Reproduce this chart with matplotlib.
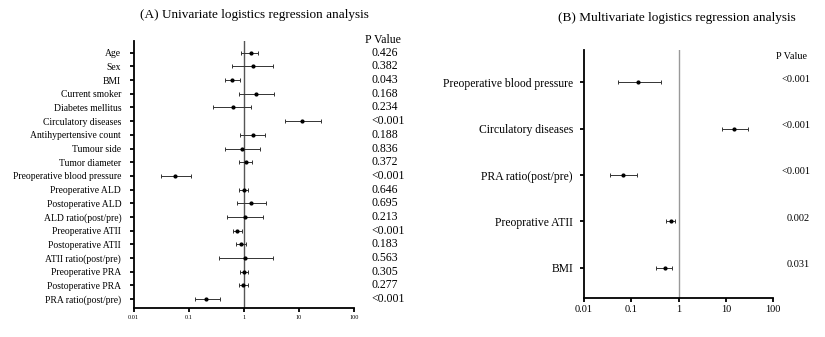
import numpy as np
import matplotlib.pyplot as plt

plt.rcParams['font.family'] = ['Liberation Serif', 'DejaVu Serif']

# Panel A: univariate
uni_labels = ['Age', 'Sex', 'BMI', 'Current smoker', 'Diabetes mellitus',
              'Circulatory diseases', 'Antihypertensive count', 'Tumour side',
              'Tumor diameter', 'Preoperative blood pressure', 'Preoperative ALD',
              'Postoperative ALD', 'ALD ratio(post/pre)', 'Preoperative ATII',
              'Postoperative ATII', 'ATII ratio(post/pre)', 'Preoperative PRA',
              'Postoperative PRA', 'PRA ratio(post/pre)']
uni_or = [1.34, 1.46, 0.60, 1.70, 0.63, 11.3, 1.45, 0.92, 1.08, 0.056, 1.00,
          1.35, 1.05, 0.75, 0.88, 1.05, 1.00, 0.98, 0.21]
uni_lo = [0.88, 0.60, 0.45, 0.81, 0.28, 5.6, 0.84, 0.45, 0.82, 0.031, 0.83,
          0.75, 0.50, 0.65, 0.72, 0.35, 0.85, 0.82, 0.13]
uni_hi = [1.80, 3.40, 0.85, 3.60, 1.34, 25.0, 2.40, 1.95, 1.40, 0.11, 1.20,
          2.50, 2.20, 0.92, 1.10, 3.40, 1.20, 1.20, 0.37]
uni_p = ['0.426', '0.382', '0.043', '0.168', '0.234', '<0.001', '0.188', '0.836',
         '0.372', '<0.001', '0.646', '0.695', '0.213', '<0.001', '0.183', '0.563',
         '0.305', '0.277', '<0.001']

# Panel B: multivariate
multi_labels = ['Preoperative blood pressure', 'Circulatory diseases',
                'PRA ratio(post/pre)', 'Preoprative ATII', 'BMI']
multi_or = [0.14, 14.8, 0.068, 0.68, 0.52]
multi_lo = [0.052, 8.3, 0.035, 0.53, 0.34]
multi_hi = [0.42, 30.0, 0.13, 0.86, 0.72]
multi_p = ['<0.001', '<0.001', '<0.001', '0.002', '0.031']

ticks = [0.01, 0.1, 1, 10, 100]
tick_labels = ['0.01', '0.1', '1', '10', '100']

fig = plt.figure(figsize=(8.25, 3.37), dpi=100)


def forest(ax, labels, ors, lo, hi, vcolor, lab_fs, tick_fs, spine_w, ypad):
    y = np.arange(len(labels))
    err = [np.array(ors) - np.array(lo), np.array(hi) - np.array(ors)]
    ax.axvline(1, color=vcolor, lw=1.0, zorder=1)
    ax.errorbar(ors, y, xerr=err, fmt='o', ms=2.0, color='black',
                ecolor='#333333', elinewidth=0.7, capsize=1.5, capthick=0.7,
                zorder=3)
    ax.set_xscale('log')
    ax.set_xlim(0.01, 100)
    ax.set_xticks(ticks)
    ax.set_xticklabels(tick_labels, fontsize=tick_fs)
    ax.minorticks_off()
    ax.set_yticks(y)
    ax.set_yticklabels(labels, fontsize=lab_fs)
    for s in ['top', 'right']:
        ax.spines[s].set_visible(False)
    for s in ['left', 'bottom']:
        ax.spines[s].set_linewidth(spine_w)
    ax.tick_params(width=spine_w, length=3, pad=2)
    ax.tick_params(axis='y', pad=ypad)
    return y


# Panel A
axA = fig.add_axes([0.162, 0.086, 0.267, 0.792])
yA = forest(axA, uni_labels, uni_or, uni_lo, uni_hi, '#555555', 6.9, 4.5, 1.3, 6)
axA.set_ylim(len(uni_labels) - 0.35, -0.85)
for yy, p in zip(yA, uni_p):
    axA.text(1.08, yy, p, transform=axA.get_yaxis_transform(), fontsize=8.5,
             va='center', ha='left')
axA.text(1.05, -0.95, 'P Value', transform=axA.get_yaxis_transform(),
         fontsize=8.5, va='center', ha='left')
fig.text(0.308, 0.955, '(A) Univariate logistics regression analysis',
         fontsize=9.5, ha='center', va='center')

# Panel B
axB = fig.add_axes([0.708, 0.116, 0.229, 0.736])
yB = forest(axB, multi_labels, multi_or, multi_lo, multi_hi, '#999999', 8.4, 7.5, 1.3, 5)
axB.set_ylim(len(multi_labels) - 1 + 0.65, -0.7)
for yy, p in zip(yB, multi_p):
    axB.text(1.197, yy - 0.07, p, transform=axB.get_yaxis_transform(), fontsize=7.5,
             va='center', ha='right')
axB.text(1.18, -0.55, 'P Value', transform=axB.get_yaxis_transform(),
         fontsize=7.3, va='center', ha='right')
fig.text(0.82, 0.947, '(B) Multivariate logistics regression analysis',
         fontsize=9.5, ha='center', va='center')

fig.savefig('out.png', dpi=100)
